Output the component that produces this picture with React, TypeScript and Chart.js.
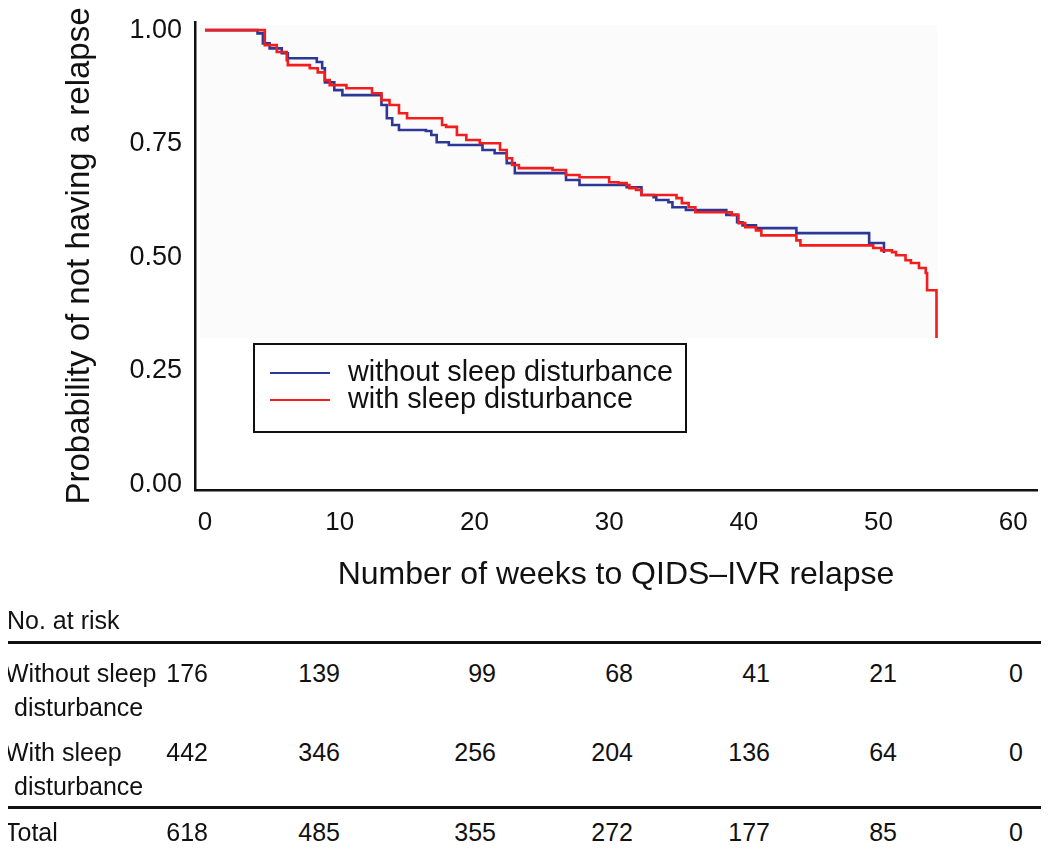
import React, { useEffect, useRef } from "react";
import { Chart, registerables } from "chart.js";

Chart.register(...registerables);

// ---- Data ----
const weeksWithout = [0, 3.9, 4.3, 4.8, 5.7, 6.15, 8.3, 8.7, 8.9, 9.6, 10.2, 13.1, 13.5, 13.9, 14.4, 16.4, 16.8, 17.2, 18.1, 20.6, 21.5, 22.4, 23.0, 26.8, 27.8, 31.3, 32.4, 33.3, 33.5, 34.4, 34.7, 35.7, 38.7, 39.5, 39.9, 40.9, 43.9, 49.3, 50.4];
const survWithout = [1, 0.993, 0.971, 0.96, 0.949, 0.938, 0.93, 0.916, 0.885, 0.868, 0.857, 0.835, 0.806, 0.791, 0.78, 0.778, 0.769, 0.753, 0.747, 0.736, 0.729, 0.707, 0.685, 0.67, 0.659, 0.654, 0.637, 0.632, 0.626, 0.621, 0.61, 0.604, 0.593, 0.577, 0.57, 0.564, 0.553, 0.531, 0.509];

const weeksWith = [0, 3.85, 4.44, 5.33, 6.07, 6.15, 7.78, 8.37, 8.89, 9.26, 10.5, 12.4, 13.1, 13.7, 14.4, 15.0, 17.6, 17.9, 18.7, 19.4, 20.4, 21.9, 22.4, 22.8, 23.3, 25.8, 26.8, 27.8, 30.0, 30.7, 31.3, 31.5, 32.0, 32.4, 35.0, 35.4, 35.9, 36.4, 39.1, 39.6, 40.1, 40.9, 41.3, 43.9, 44.2, 49.6, 50.2, 51.0, 51.3, 52.0, 52.4, 53.0, 53.5, 53.6, 54.3];
const survWith = [1, 1, 0.967, 0.952, 0.934, 0.923, 0.916, 0.907, 0.89, 0.879, 0.872, 0.861, 0.846, 0.835, 0.817, 0.806, 0.791, 0.787, 0.769, 0.758, 0.751, 0.736, 0.718, 0.703, 0.696, 0.692, 0.681, 0.676, 0.665, 0.663, 0.659, 0.652, 0.648, 0.637, 0.63, 0.619, 0.61, 0.599, 0.593, 0.575, 0.566, 0.559, 0.548, 0.537, 0.526, 0.52, 0.515, 0.511, 0.504, 0.493, 0.487, 0.476, 0.465, 0.427, 0.322];

const seriesLabels = ["without sleep disturbance", "with sleep disturbance"];
const xTickValues = [0, 10, 20, 30, 40, 50, 60];
const yTickValues = [0, 0.25, 0.5, 0.75, 1];
const xTitle = "Number of weeks to QIDS\u2013IVR relapse";
const yTitle = "Probability of not having a relapse";

const riskHeader = "No. at risk";
const riskRowLabels = [["Without sleep", "disturbance"], ["With sleep", "disturbance"], ["Total"]];
const riskWithout = [176, 139, 99, 68, 41, 21, 0];
const riskWith = [442, 346, 256, 204, 136, 64, 0];
const riskTotal = [618, 485, 355, 272, 177, 85, 0];

// ---- Styling / layout ----
const FONT = "'Liberation Sans', Arial, Helvetica, sans-serif";
const BLUE = "#2d3896";
const RED = "#f31d1d";
const INK = "#111111";
const riskColRight = [208, 340, 496, 633, 770, 897, 1023];
const riskRowCenters = [673, 752, 832];

const dataBoxPlugin = {
  id: "dataBox",
  beforeDatasetsDraw(chart: any) {
    const { ctx, scales } = chart;
    const x = scales.x;
    const y = scales.y;
    let maxT = 0;
    let minP = 1;
    chart.data.datasets.forEach((ds: any) => {
      ds.data.forEach((p: any) => {
        if (p.x > maxT) maxT = p.x;
        if (p.y < minP) minP = p.y;
      });
    });
    const l = x.getPixelForValue(0) - 5;
    const r = x.getPixelForValue(maxT) + 1;
    const t = y.getPixelForValue(1) - 5;
    const b = y.getPixelForValue(minP);
    ctx.save();
    ctx.fillStyle = "#fbfbfb";
    ctx.fillRect(l, t, r - l, b - t);
    ctx.restore();
  },
};

const boxLegendPlugin = {
  id: "boxLegend",
  afterDatasetsDraw(chart: any) {
    const { ctx } = chart;
    const left = 254;
    const top = 344;
    const w = 432;
    const h = 88;
    ctx.save();
    ctx.fillStyle = "#ffffff";
    ctx.fillRect(left, top, w, h);
    ctx.strokeStyle = INK;
    ctx.lineWidth = 2;
    ctx.strokeRect(left, top, w, h);
    const rows = [373, 400];
    const ordered = [1, 0];
    ordered.forEach((dsIndex, i) => {
      const ds = chart.data.datasets[dsIndex];
      ctx.strokeStyle = ds.borderColor;
      ctx.lineWidth = 2.2;
      ctx.beginPath();
      ctx.moveTo(270, rows[i]);
      ctx.lineTo(330, rows[i]);
      ctx.stroke();
      ctx.fillStyle = INK;
      ctx.font = `28.8px ${FONT}`;
      ctx.textBaseline = "middle";
      ctx.textAlign = "left";
      ctx.fillText(ds.label, 348, rows[i]);
    });
    ctx.restore();
  },
};

export default function App() {
  const canvasRef = useRef<HTMLCanvasElement | null>(null);

  useEffect(() => {
    const canvas = canvasRef.current;
    if (!canvas) return;
    const chart = new Chart(canvas, {
      type: "line",
      data: {
        datasets: [
          {
            label: seriesLabels[1],
            data: weeksWith.map((t, i) => ({ x: t, y: survWith[i] })),
            borderColor: RED,
            borderWidth: 2.6,
            pointRadius: 0,
            stepped: "before",
            fill: false,
            order: 0,
          },
          {
            label: seriesLabels[0],
            data: weeksWithout.map((t, i) => ({ x: t, y: survWithout[i] })),
            borderColor: BLUE,
            borderWidth: 2.6,
            pointRadius: 0,
            stepped: "before",
            fill: false,
            order: 1,
          },
        ],
      },
      options: {
        responsive: false,
        animation: false,
        events: [],
        layout: { padding: { left: 0, right: 13, top: 22, bottom: 0 } },
        plugins: {
          legend: { display: false },
          tooltip: { enabled: false },
          title: { display: false },
        },
        scales: {
          x: {
            type: "linear",
            min: -0.74,
            max: 61.76,
            grid: { display: false, drawTicks: false },
            border: { display: true, color: INK, width: 2.5 },
            afterBuildTicks: (scale: any) => {
              scale.ticks = xTickValues.map((v) => ({ value: v }));
            },
            afterFit: (scale: any) => {
              scale.height = 120;
              scale.paddingLeft = 0;
              scale.paddingRight = 0;
            },
            ticks: {
              color: INK,
              font: { family: FONT, size: 26 },
              padding: 17,
              maxRotation: 0,
              autoSkip: false,
              callback: (v: any) => String(v),
            },
            title: {
              display: true,
              text: xTitle,
              color: INK,
              font: { family: FONT, size: 32 },
              padding: { top: 0, bottom: 16 },
            },
          },
          y: {
            type: "linear",
            min: -0.013,
            max: 1.018,
            grid: { display: false, drawTicks: false },
            border: { display: true, color: INK, width: 2.5 },
            afterBuildTicks: (scale: any) => {
              scale.ticks = yTickValues.map((v) => ({ value: v }));
            },
            afterFit: (scale: any) => {
              scale.width = 195;
              scale.paddingTop = 0;
              scale.paddingBottom = 0;
            },
            ticks: {
              color: INK,
              font: { family: FONT, size: 27 },
              padding: 13,
              autoSkip: false,
              callback: (v: any) => Number(v).toFixed(2),
            },
            title: {
              display: true,
              text: yTitle,
              color: INK,
              font: { family: FONT, size: 33 },
              padding: { top: 60, bottom: 0 },
            },
          },
        },
      },
      plugins: [dataBoxPlugin, boxLegendPlugin],
    } as any);
    return () => chart.destroy();
  }, []);

  const textStyle: React.CSSProperties = {
    position: "absolute",
    fontFamily: FONT,
    fontSize: 25,
    lineHeight: "30px",
    color: INK,
    whiteSpace: "nowrap",
  };
  const riskRows = [riskWithout, riskWith, riskTotal];

  return (
    <div style={{ position: "relative", width: 1050, height: 849, margin: -8, background: "#fff", overflow: "hidden" }}>
      <canvas ref={canvasRef} width={1050} height={610} style={{ position: "absolute", left: 0, top: 0, width: 1050, height: 610 }} />
      <div style={{ ...textStyle, left: 7, top: 620 - 15 }}>{riskHeader}</div>
      <div style={{ position: "absolute", left: 5, top: 641, width: 1036, height: 3, background: INK }} />
      <div style={{ position: "absolute", left: 5, top: 806, width: 1036, height: 3, background: INK }} />
      {riskRowLabels.map((lines, r) =>
        lines.map((line, k) => (
          <div key={`l${r}-${k}`} style={{ ...textStyle, left: k === 0 ? 5 : 14, top: riskRowCenters[r] - 15 + k * 34 }}>
            {line}
          </div>
        ))
      )}
      {riskRows.map((row, r) =>
        row.map((v, c) => (
          <div
            key={`n${r}-${c}`}
            style={{ ...textStyle, left: riskColRight[c] - 80, width: 80, textAlign: "right", top: riskRowCenters[r] - 15 }}
          >
            {v}
          </div>
        ))
      )}
    </div>
  );
}
